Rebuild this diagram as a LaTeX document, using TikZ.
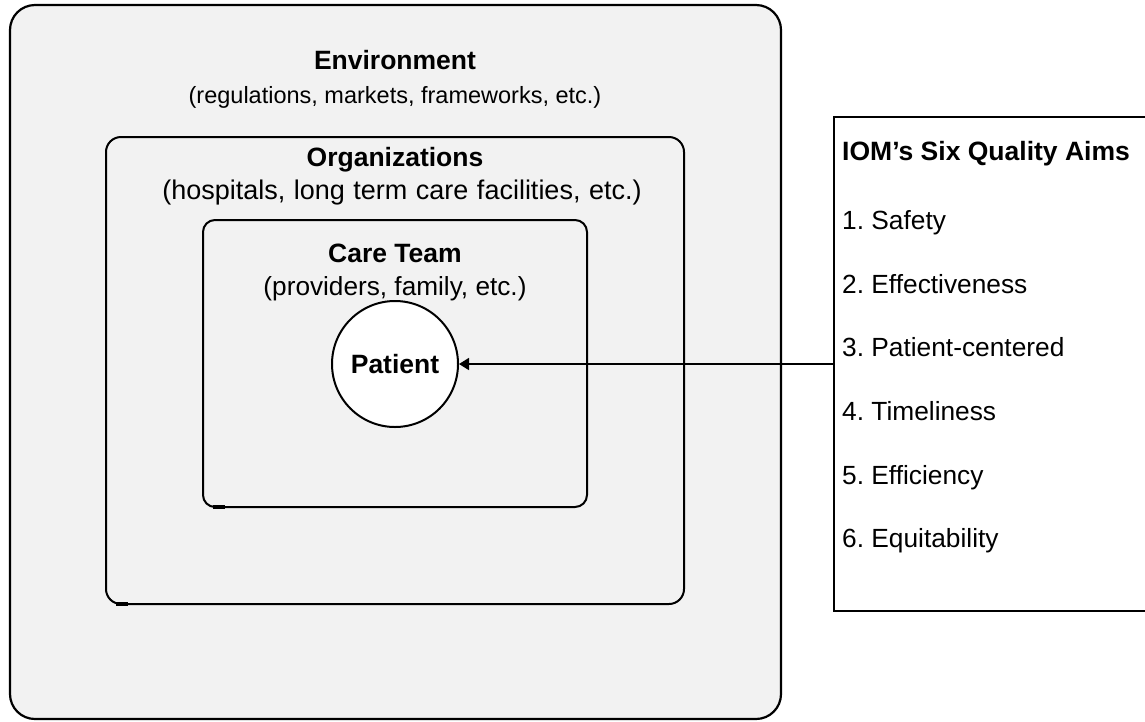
\documentclass[tikz,border=0pt]{standalone}
\usepackage{fontspec}
\setmainfont{Liberation Sans}
\usetikzlibrary{arrows.meta}
\frenchspacing
\begin{document}
\begin{tikzpicture}[x=1pt,y=-1pt,
  level/.style={draw=black,fill=black!5,line width=2.2pt},
  title/.style={font=\fontsize{26.5}{30}\selectfont\bfseries,anchor=base,inner sep=0pt},
  sub/.style={font=\fontsize{26.2}{30}\selectfont,anchor=base,inner sep=0pt},
  aim/.style={font=\fontsize{26.3}{30}\selectfont,anchor=base west,inner sep=0pt},
  link/.style={line width=1.6pt,-{Triangle[length=10pt,width=12pt]}}]
\useasboundingbox (0,0) rectangle (1145,721);
% nested levels of the care system
\draw[level,rounded corners=25pt] (10,5) rectangle (781,719);
\draw[level,line width=2pt,rounded corners=15pt] (106,137) rectangle (684,604);
\draw[level,line width=2pt,rounded corners=12pt] (203,220) rectangle (587,507);
\draw[line width=3.5pt] (116,604) -- (128,604);
\draw[line width=3.5pt] (213,507) -- (225,507);
% labels of each level
\node[title] (env) at (395,69) {Environment};
\node[sub,font=\fontsize{23.5}{30}\selectfont] (envsub) at (395,103) {(regulations, markets, frameworks, etc.)};
\node[title] (org) at (395,166) {Organizations};
\node[sub,font=\fontsize{27}{30}\selectfont] (orgsub) at (402,199) {\spaceskip=8.5pt\relax(hospitals, long term care facilities, etc.)};
\node[title] (team) at (395,262) {Care Team};
\node[sub] (teamsub) at (395,295) {(providers, family, etc.)};
% patient at the centre
\node[circle,draw,fill=white,line width=2pt,minimum size=126pt,inner sep=0pt,
  font=\fontsize{26.5}{30}\selectfont\bfseries] (patient) at (395,364) {Patient};
% quality aims panel
\draw[line width=2.5pt,fill=white] (834,117) rectangle (1160,611);
\coordinate (aimsleft) at (834,364);
\node[aim,font=\fontsize{26.5}{30}\selectfont\bfseries] (aims) at (842,160.7) {IOM’s Six Quality Aims};
\node[aim] (a1) at (842,229.3) {1. Safety};
\node[aim] (a2) at (842,293) {2. Effectiveness};
\node[aim] (a3) at (842,356.7) {3. Patient-centered};
\node[aim] (a4) at (842,420.4) {4. Timeliness};
\node[aim] (a5) at (842,484.1) {5. Efficiency};
\node[aim] (a6) at (842,547.8) {6. Equitability};
\draw[link] (aimsleft) -- (patient.east);
\end{tikzpicture}
\end{document}
